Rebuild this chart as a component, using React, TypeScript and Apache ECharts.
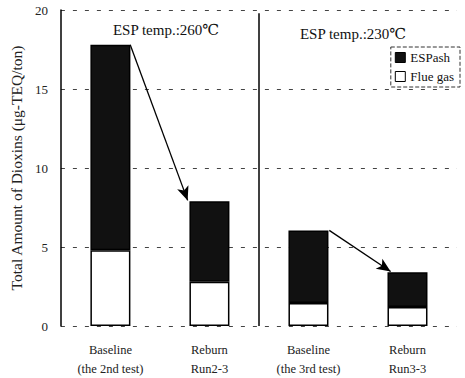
import React, { useEffect, useRef } from "react";
import * as echarts from "echarts";

const categories = ["Baseline\n(the 2nd test)", "Reburn\nRun2-3", "Baseline\n(the 3rd test)", "Reburn\nRun3-3"];
const flueGas = [4.8, 2.8, 1.45, 1.2];
const espAsh = [13.0, 5.1, 4.6, 2.2];
const yTicks = [0, 5, 10, 15, 20];
const panelTitles = ["ESP temp.:260℃", "ESP temp.:230℃"];
// arrows in hidden value-axis units (category i spans i..i+1)
const arrows = [
  { from: [0.7, 17.8], to: [1.28, 7.95] },
  { from: [2.71, 6.05], to: [3.33, 3.45] },
];
const divider = 2;

const SERIF = "'Liberation Serif', 'DejaVu Serif', serif";

export default function App() {
  const ref = useRef<HTMLDivElement>(null);
  useEffect(() => {
    if (!ref.current) return;
    const chart = echarts.init(ref.current, null, { renderer: "svg" });
    chart.setOption({
      animation: false,
      backgroundColor: "#fff",
      textStyle: { fontFamily: SERIF },
      title: [
        { text: panelTitles[0], left: 161, top: 17, textAlign: "center", textStyle: { fontFamily: SERIF, fontSize: 15, fontWeight: "normal", color: "#111" } },
        { text: panelTitles[1], left: 348, top: 21, textAlign: "center", textStyle: { fontFamily: SERIF, fontSize: 15, fontWeight: "normal", color: "#111" } },
      ],
      legend: {
        orient: "vertical",
        right: 5,
        top: 47,
        itemWidth: 10,
        itemHeight: 10,
        itemGap: 6,
        icon: "rect",
        padding: [4, 6, 4, 4],
        borderColor: "#333",
        borderWidth: 1,
        borderType: "dashed",
        backgroundColor: "#fff",
        textStyle: { fontFamily: SERIF, fontSize: 13, color: "#111" },
        data: [
          { name: "ESPash", itemStyle: { color: "#111", borderColor: "#000", borderWidth: 1 } },
          { name: "Flue gas", itemStyle: { color: "#fff", borderColor: "#000", borderWidth: 1 } },
        ],
      },
      grid: { left: 57, right: 8, top: 10, bottom: 48 },
      xAxis: [
        {
          type: "category",
          data: categories,
          axisLine: { show: false },
          axisTick: { show: false },
          axisLabel: { fontFamily: SERIF, fontSize: 12.5, color: "#222", lineHeight: 19, margin: 14 },
        },
        { type: "value", min: 0, max: 4, show: false },
      ],
      yAxis: {
        type: "value",
        min: 0,
        max: 20,
        interval: 5,
        name: "Total Amount of Dioxins (μg-TEQ/ton)",
        nameLocation: "middle",
        nameGap: 36,
        nameTextStyle: { fontFamily: SERIF, fontSize: 15.5, color: "#222" },
        axisLine: { show: true, lineStyle: { color: "#000", width: 1.5 } },
        axisTick: { show: false },
        axisLabel: {
          fontFamily: SERIF,
          fontSize: 13,
          color: "#222",
          margin: 13,
          padding: [5, 0, 0, 0],
          formatter: (v: number) => (yTicks.includes(v) ? String(v) : ""),
        },
        splitLine: { show: true, lineStyle: { color: "#444", type: [4, 8], width: 1 } },
      },
      series: [
        {
          name: "Flue gas",
          type: "bar",
          stack: "t",
          data: flueGas,
          barWidth: 40,
          itemStyle: { color: "#fff", borderColor: "#000", borderWidth: 1.5 },
        },
        {
          name: "ESPash",
          type: "bar",
          stack: "t",
          data: espAsh,
          barWidth: 40,
          itemStyle: { color: "#111", borderColor: "#000", borderWidth: 1.5 },
        },
        {
          name: "annot",
          type: "scatter",
          xAxisIndex: 1,
          data: [],
          markLine: {
            silent: true,
            symbol: ["none", "none"],
            label: { show: false },
            lineStyle: { color: "#000", width: 1.5, type: "solid" },
            data: [
              [
                { coord: [divider, 0] },
                { coord: [divider, 19.8] },
              ],
            ],
          },
        },
        {
          name: "arrows",
          type: "scatter",
          xAxisIndex: 1,
          data: [],
          markLine: {
            silent: true,
            symbol: ["none", "arrow"],
            symbolSize: [9, 14],
            label: { show: false },
            lineStyle: { color: "#000", width: 1.3, type: "solid" },
            data: arrows.map((a) => [{ coord: a.from }, { coord: a.to }]),
          },
        },
      ],
    });
    return () => chart.dispose();
  }, []);
  return <div ref={ref} style={{ width: 465, height: 378, position: "absolute", left: 0, top: 0 }} />;
}
